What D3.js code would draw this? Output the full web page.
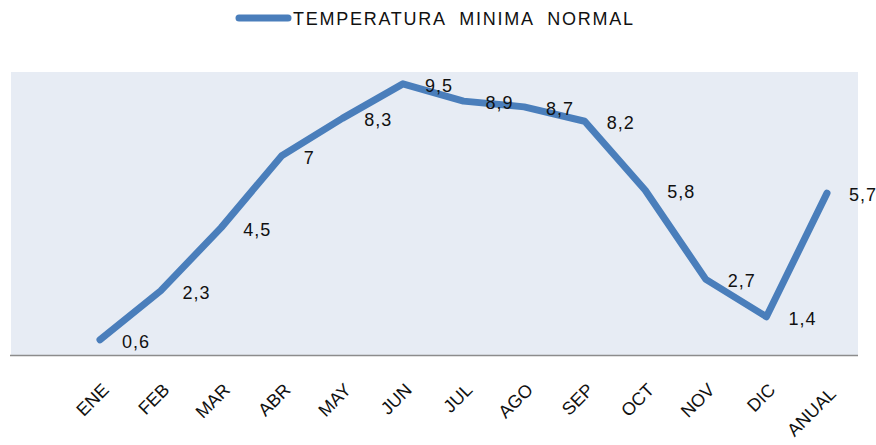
<!DOCTYPE html>
<html>
<head>
<meta charset="utf-8">
<script src="https://cdn.jsdelivr.net/npm/d3@7"></script>
<style>
  body { margin: 0; background: #fff; }
  svg { display: block; }
</style>
</head>
<body>
<svg id="chart" width="876" height="445"></svg>
<script>
let months = ["ENE", "FEB", "MAR", "ABR", "MAY", "JUN", "JUL", "AGO", "SEP", "OCT", "NOV", "DIC", "ANUAL"]
let tempMin = [0.6, 2.3, 4.5, 7, 8.3, 9.5, 8.9, 8.7, 8.2, 5.8, 2.7, 1.4, 5.7]
let seriesName = "TEMPERATURA  MINIMA  NORMAL"

let svg = d3.select("#chart")
let font = "'Liberation Sans', Arial, sans-serif"
let lineColor = "#4a7ebb"

// plot area
let plot = {left: 11, right: 858, top: 72, bottom: 355}

svg.append("rect")
    .attr("x", plot.left)
    .attr("y", plot.top)
    .attr("width", plot.right - plot.left)
    .attr("height", plot.bottom - plot.top)
    .attr("fill", "#e7ecf4")

let x = d3.scalePoint()
    .domain(months)
    .range([100, 827])

let y = d3.scaleLinear()
    .domain([0, 10])
    .range([357, 69.5])

// bottom axis line
svg.append("line")
    .attr("x1", plot.left - 1)
    .attr("x2", plot.right)
    .attr("y1", plot.bottom + 0.5)
    .attr("y2", plot.bottom + 0.5)
    .attr("stroke", "#8c8c8c")
    .attr("stroke-width", 1.3)

// month labels, rotated like excel
svg.selectAll(".month")
    .data(months)
    .enter().append("text")
    .attr("class", "month")
    .attr("transform", d => "translate(" + (x(d) + 10) + "," + (391 + (d.length - 3) * 2) + ") rotate(-45)")
    .attr("text-anchor", "end")
    .attr("font-family", font)
    .attr("font-size", "18px")
    .attr("fill", "#111")
    .text(d => d)

let line = d3.line()
    .x((d, i) => x(months[i]))
    .y(d => y(d))

svg.append("path")
    .datum(tempMin)
    .attr("d", line)
    .attr("fill", "none")
    .attr("stroke", lineColor)
    .attr("stroke-width", 7)
    .attr("stroke-linejoin", "round")
    .attr("stroke-linecap", "round")

// data labels
svg.selectAll(".val")
    .data(tempMin)
    .enter().append("text")
    .attr("class", "val")
    .attr("x", (d, i) => x(months[i]) + 22)
    .attr("y", d => y(d) + 8)
    .attr("font-family", font)
    .attr("font-size", "18px")
    .attr("letter-spacing", "1px")
    .attr("fill", "#111")
    .text(d => String(d).replace(".", ","))

// legend
svg.append("line")
    .attr("x1", 239)
    .attr("x2", 288)
    .attr("y1", 18)
    .attr("y2", 18)
    .attr("stroke", lineColor)
    .attr("stroke-width", 7)
    .attr("stroke-linecap", "round")

svg.append("text")
    .attr("x", 293)
    .attr("y", 25)
    .attr("font-family", font)
    .attr("font-size", "18px")
    .attr("fill", "#111")
    .attr("xml:space", "preserve")
    .style("white-space", "pre")
    .attr("textLength", 340)
    .attr("lengthAdjust", "spacing")
    .text(seriesName)
</script>
</body>
</html>
